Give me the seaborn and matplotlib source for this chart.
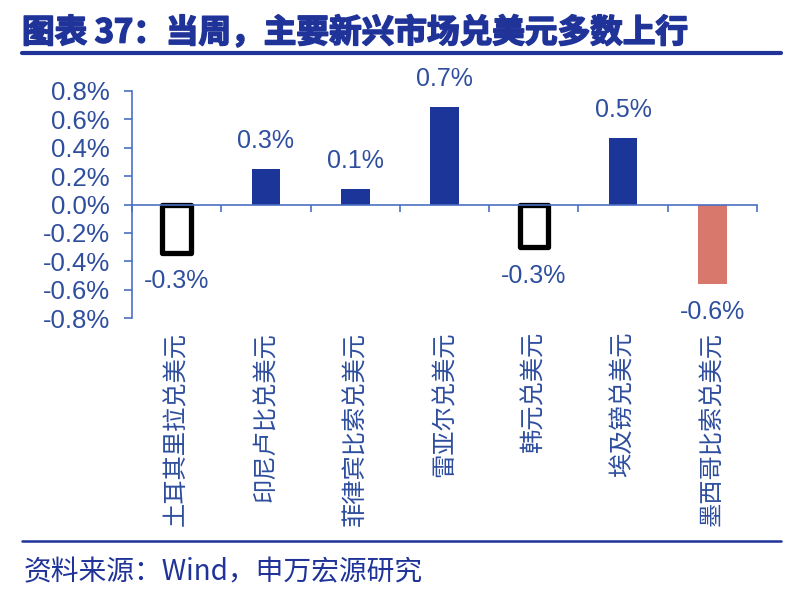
import matplotlib
matplotlib.use("Agg")
import matplotlib.pyplot as plt
import matplotlib.transforms as mtransforms
import matplotlib.patheffects as pe
from matplotlib.lines import Line2D
import seaborn as sns
import pandas as pd

categories = ["土耳其里拉兑美元", "印尼卢比兑美元", "菲律宾比索兑美元", "雷亚尔兑美元",
              "韩元兑美元", "埃及镑兑美元", "墨西哥比索兑美元"]
values = [-0.34, 0.25, 0.11, 0.69, -0.30, 0.47, -0.56]
value_labels = ["-0.3%", "0.3%", "0.1%", "0.7%", "-0.3%", "0.5%", "-0.6%"]
bar_colors = ["#FFFFFF", "#1B3599", "#1B3599", "#1B3599", "#FFFFFF", "#1B3599", "#D8776B"]
outlined = [True, False, False, False, True, False, False]
y_ticks = [-0.8, -0.6, -0.4, -0.2, 0.0, 0.2, 0.4, 0.6, 0.8]
title = "图表 37：当周，主要新兴市场兑美元多数上行"
source = "资料来源：Wind，申万宏源研究"

sns.set_theme(style="white")
plt.rcParams['font.family'] = ['Noto Sans CJK SC', 'DejaVu Sans']

BLUE = "#1F3399"
TXT = "#2E4E9E"
AXC = "#4A6FC4"

fig = plt.figure(figsize=(7.96, 6.01), dpi=100)
ax = fig.add_axes([132/796, 1-318/601, (757-132)/796, (318-91)/601])

df = pd.DataFrame({"cat": categories, "val": values})
sns.barplot(data=df, x="cat", y="val", hue="cat", palette=bar_colors,
            legend=False, width=0.32, ax=ax, saturation=1)

for p in ax.patches:
    idx = int(round(p.get_x() + p.get_width()/2))
    if 0 <= idx < len(categories) and outlined[idx]:
        p.set_facecolor("white")
        p.set_edgecolor("black")
        p.set_linewidth(3.8)
        p.set_joinstyle("round")
        p.set_zorder(3)
    else:
        p.set_linewidth(0)

ax.set_xlim(-0.5, len(categories) - 0.5)
ax.set_ylim(-0.8, 0.8)
ax.set_xlabel("")
ax.set_ylabel("")

for s in ["top", "right"]:
    ax.spines[s].set_visible(False)
ax.spines["bottom"].set_position(("data", 0))
for s in ["left", "bottom"]:
    ax.spines[s].set_color(AXC)
    ax.spines[s].set_linewidth(1.2)
ax.spines["bottom"].set_zorder(4)

ax.set_xticks([i - 0.5 for i in range(len(categories) + 1)])
ax.set_xticklabels([])
ax.tick_params(axis="x", direction="out", length=5, width=1.2, color=AXC, bottom=True)
ax.set_yticks(y_ticks)
ax.set_yticklabels([f"{v:.1f}%" for v in y_ticks], fontfamily="Liberation Sans",
                   fontsize=18.5, color=TXT)
ax.tick_params(axis="y", direction="out", length=6, width=1.2, color=AXC, left=True, pad=10)

for i, (v, lab) in enumerate(zip(values, value_labels)):
    off = 20 if v >= 0 else -20.5
    ax.annotate(lab, (i, v), xytext=(0, off), textcoords="offset points",
                ha="center", va="center", fontsize=18, color=TXT,
                fontfamily="Liberation Sans")

trans = mtransforms.blended_transform_factory(ax.transData, ax.transAxes)
for i, c in enumerate(categories):
    ax.annotate(c, (i, 0), xycoords=trans, xytext=(0, -10), textcoords="offset points",
                ha="center", va="top", rotation=90, fontsize=17.5, color=TXT)

fig.text(22/796, 1-33/601, title, fontsize=23.5, fontweight="bold", color=BLUE,
         ha="left", va="center",
         path_effects=[pe.withStroke(linewidth=1.2, foreground=BLUE)])
fig.add_artist(Line2D([22/796, 781/796], [1-53/601, 1-53/601], lw=3, color=BLUE))
fig.add_artist(Line2D([22/796, 781/796], [1-541/601, 1-541/601], lw=1.8, color=BLUE))
fig.text(24/796, 1-572/601, source, fontsize=20, color=BLUE, ha="left", va="center")

fig.savefig("out.png", dpi=100)
